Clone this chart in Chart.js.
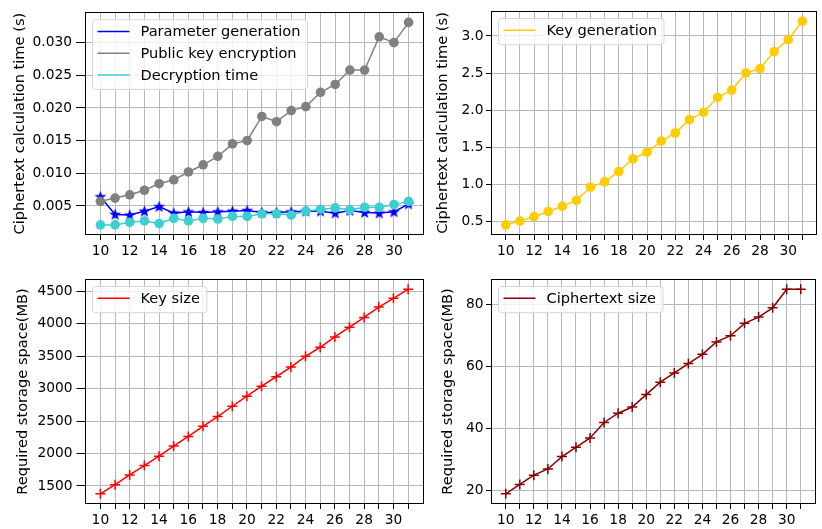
<!DOCTYPE html>
<html>
<head>
<meta charset="utf-8">
<script src="https://cdn.jsdelivr.net/npm/chart.js@4.4.0/dist/chart.umd.min.js"></script>
<style>
  body { margin: 0; background: #fff; }
  #wrap { position: relative; width: 822px; height: 529px; overflow: hidden; }
  #wrap canvas { position: absolute; }
</style>
</head>
<body>
<div id="wrap">
  <canvas id="cTL" width="430" height="262" style="left:0;top:0"></canvas>
  <canvas id="cTR" width="392" height="262" style="left:430px;top:0"></canvas>
  <canvas id="cBL" width="430" height="267" style="left:0;top:262px"></canvas>
  <canvas id="cBR" width="392" height="267" style="left:430px;top:262px"></canvas>
</div>
<script>
// Datos
const xs = [10, 11, 12, 13, 14, 15, 16, 17, 18, 19, 20, 21, 22, 23, 24, 25, 26, 27, 28, 29, 30, 31];

const paramGen = [0.0064, 0.0037, 0.0036, 0.0042, 0.0049, 0.0039, 0.0041, 0.0040, 0.0041, 0.0042, 0.0043,
                  0.0040, 0.0040, 0.0041, 0.0042, 0.0042, 0.0039, 0.0043, 0.0040, 0.0039, 0.0041, 0.0053];
const pubKeyEnc = [0.0057, 0.0062, 0.0067, 0.0074, 0.0084, 0.0090, 0.0102, 0.0113, 0.0126, 0.0145, 0.0150,
                   0.0187, 0.0179, 0.0196, 0.0202, 0.0224, 0.0236, 0.0258, 0.0258, 0.0309, 0.0300, 0.0331];
const decTime = [0.0021, 0.0021, 0.0025, 0.0027, 0.0023, 0.0031, 0.0027, 0.0031, 0.0030, 0.0034, 0.0034,
                 0.0038, 0.0038, 0.0036, 0.0042, 0.0045, 0.0047, 0.0044, 0.0048, 0.0048, 0.0052, 0.0057];
const keyGen = [0.45, 0.50, 0.56, 0.63, 0.70, 0.78, 0.96, 1.03, 1.17, 1.34, 1.43,
                1.58, 1.69, 1.87, 1.97, 2.17, 2.27, 2.50, 2.56, 2.79, 2.95, 3.20];
const keySize = [1380, 1520, 1670, 1815, 1960, 2115, 2265, 2420, 2570, 2730, 2885,
                 3040, 3185, 3335, 3500, 3640, 3800, 3950, 4100, 4260, 4395, 4535];
const cipherSize = [19, 22, 25, 27, 31, 34, 37, 42, 45, 47, 51, 55, 58, 61, 64, 68, 70, 74, 76, 79, 85, 85];

// Marcas de los ejes
const xTicks = xs;
const timeTicks = [0.005, 0.010, 0.015, 0.020, 0.025, 0.030];
const keyGenTicks = [0.5, 1.0, 1.5, 2.0, 2.5, 3.0];
const keySizeTicks = [1500, 2000, 2500, 3000, 3500, 4000, 4500];
const cipherTicks = [20, 40, 60, 80];

const FONT = 'DejaVu Sans';
const LABEL_SIZE = 14.6;
Chart.defaults.font.family = FONT;
Chart.defaults.font.size = 13.8;
Chart.defaults.color = '#000';

// Estrella rellena tipo matplotlib '*'
function starImage(color) {
    const c = document.createElement('canvas');
    c.width = 13; c.height = 13;
    const g = c.getContext('2d');
    g.fillStyle = color;
    g.beginPath();
    for (let i = 0; i < 10; i++) {
        const r = i % 2 === 0 ? 6.3 : 2.6;
        const a = -Math.PI / 2 + i * Math.PI / 5;
        const px = 6.5 + r * Math.cos(a), py = 6.8 + r * Math.sin(a);
        if (i === 0) g.moveTo(px, py); else g.lineTo(px, py);
    }
    g.closePath();
    g.fill();
    return c;
}

function pts(ys) {
    return xs.map((x, i) => ({ x: x, y: ys[i] }));
}

function limits(arrs) {
    const all = [].concat(...arrs);
    const lo = Math.min(...all), hi = Math.max(...all);
    const m = (hi - lo) * 0.05;
    return [lo - m, hi + m];
}

// Recuadro completo del eje (como los spines de matplotlib)
const frame = {
    id: 'frame',
    afterDatasetsDraw(chart) {
        const { ctx, chartArea: a } = chart;
        ctx.save();
        ctx.strokeStyle = '#000';
        ctx.lineWidth = 1;
        ctx.strokeRect(Math.round(a.left) + 0.5, Math.round(a.top) + 0.5,
                       Math.round(a.right - a.left) - 1, Math.round(a.bottom - a.top) - 1);
        ctx.restore();
    }
};

// Leyenda dentro del área, arriba a la izquierda
const boxLegend = {
    id: 'boxLegend',
    afterDraw(chart) {
        const { ctx, chartArea: a } = chart;
        const items = chart.data.datasets;
        ctx.save();
        ctx.font = LABEL_SIZE + 'px "' + FONT + '"';
        const textW = Math.max(...items.map(d => ctx.measureText(d.label).width));
        const x0 = a.left + 7.5, y0 = a.top + 7.5;
        const w = 48 + textW + 7;
        const h = 11.7 + 21.7 * (items.length - 1) + 14.5;
        ctx.fillStyle = 'rgba(255,255,255,0.8)';
        ctx.strokeStyle = '#d6d6d6';
        ctx.lineWidth = 1;
        ctx.beginPath();
        ctx.roundRect(x0, y0, w, h, 3);
        ctx.fill();
        ctx.stroke();
        items.forEach((d, i) => {
            const y = y0 + 11.7 + i * 21.7;
            ctx.strokeStyle = d.borderColor;
            ctx.lineWidth = 1.5;
            ctx.beginPath();
            ctx.moveTo(x0 + 5, y);
            ctx.lineTo(x0 + 37, y);
            ctx.stroke();
            ctx.fillStyle = '#000';
            ctx.textBaseline = 'middle';
            ctx.textAlign = 'left';
            ctx.fillText(d.label, x0 + 48, y + 1);
        });
        ctx.restore();
    }
};

function makeChart(id, datasets, cfg) {
    const [xmin, xmax] = limits([xs]);
    const [ymin, ymax] = limits(cfg.series);
    return new Chart(document.getElementById(id), {
        type: 'line',
        data: { datasets: datasets },
        options: {
            responsive: false,
            animation: false,
            layout: { padding: cfg.padding },
            plugins: { legend: { display: false }, tooltip: { enabled: false } },
            elements: { line: { borderWidth: 1.5, tension: 0 } },
            scales: {
                x: {
                    type: 'linear',
                    min: xmin, max: xmax,
                    border: { display: false },
                    grid: { color: '#b8b8b8', lineWidth: 1, tickColor: '#000', tickLength: 5 },
                    ticks: {
                        autoSkip: false, maxRotation: 0, padding: 3,
                        callback: v => (v % 2 === 0 ? String(v) : '')
                    },
                    afterBuildTicks: s => { s.ticks = xTicks.map(v => ({ value: v })); },
                    afterFit: s => { s.height = cfg.xHeight; }
                },
                y: {
                    type: 'linear',
                    min: ymin, max: ymax,
                    border: { display: false },
                    grid: { color: '#b8b8b8', lineWidth: 1, tickColor: '#000', tickLength: cfg.yTickLen },
                    ticks: { padding: cfg.yTickPad, callback: cfg.fmt },
                    afterBuildTicks: s => { s.ticks = cfg.yTicks.map(v => ({ value: v })); },
                    afterFit: s => { s.width = cfg.yWidth; },
                    title: { display: true, text: cfg.yTitle, font: { size: LABEL_SIZE },
                             padding: { top: 0, bottom: 0 } }
                }
            }
        },
        plugins: [frame, boxLegend]
    });
}

function initCharts() {
    makeChart('cTL', [
        { label: 'Parameter generation', data: pts(paramGen), borderColor: '#0000ff', backgroundColor: '#0000ff',
          pointStyle: starImage('#0000ff'), order: 3 },
        { label: 'Public key encryption', data: pts(pubKeyEnc), borderColor: '#808080', backgroundColor: '#808080',
          pointStyle: 'circle', pointRadius: 4.8, pointBorderWidth: 0, order: 2 },
        { label: 'Decryption time', data: pts(decTime), borderColor: '#3ccfcf', backgroundColor: '#3ccfcf',
          pointStyle: 'circle', pointRadius: 4.8, pointBorderWidth: 0, order: 1 }
    ], {
        series: [paramGen, pubKeyEnc, decTime], yTicks: timeTicks, fmt: v => v.toFixed(3),
        yTitle: 'Ciphertext calculation time (s)', yTickLen: 9, yTickPad: 4,
        padding: { left: 11, right: 6, top: 11, bottom: 0 }, yWidth: 74, xHeight: 27
    });

    makeChart('cTR', [
        { label: 'Key generation', data: pts(keyGen), borderColor: '#ffcc00', backgroundColor: '#ffcc00',
          pointStyle: 'circle', pointRadius: 4.8, pointBorderWidth: 0 }
    ], {
        series: [keyGen], yTicks: keyGenTicks, fmt: v => v.toFixed(1),
        yTitle: 'Ciphertext calculation time (s)', yTickLen: 5, yTickPad: 2.5,
        padding: { left: 4, right: 1, top: 11, bottom: 0 }, yWidth: 57, xHeight: 27
    });

    makeChart('cBL', [
        { label: 'Key size', data: pts(keySize), borderColor: '#ff0000', backgroundColor: '#ff0000',
          pointStyle: 'cross', pointRadius: 5, pointBorderWidth: 1.5 }
    ], {
        series: [keySize], yTicks: keySizeTicks, fmt: v => String(v),
        yTitle: 'Required storage space(MB)', yTickLen: 8.5, yTickPad: 4,
        padding: { left: 14, right: 6, top: 17, bottom: 0 }, yWidth: 71, xHeight: 25
    });

    makeChart('cBR', [
        { label: 'Ciphertext size', data: pts(cipherSize), borderColor: '#8b0000', backgroundColor: '#8b0000',
          pointStyle: 'cross', pointRadius: 5, pointBorderWidth: 1.5 }
    ], {
        series: [cipherSize], yTicks: cipherTicks, fmt: v => String(v),
        yTitle: 'Required storage space(MB)', yTickLen: 5, yTickPad: 2.5,
        padding: { left: 9, right: 1, top: 17, bottom: 0 }, yWidth: 52, xHeight: 25
    });
}

document.addEventListener('DOMContentLoaded', initCharts);
</script>
</body>
</html>
